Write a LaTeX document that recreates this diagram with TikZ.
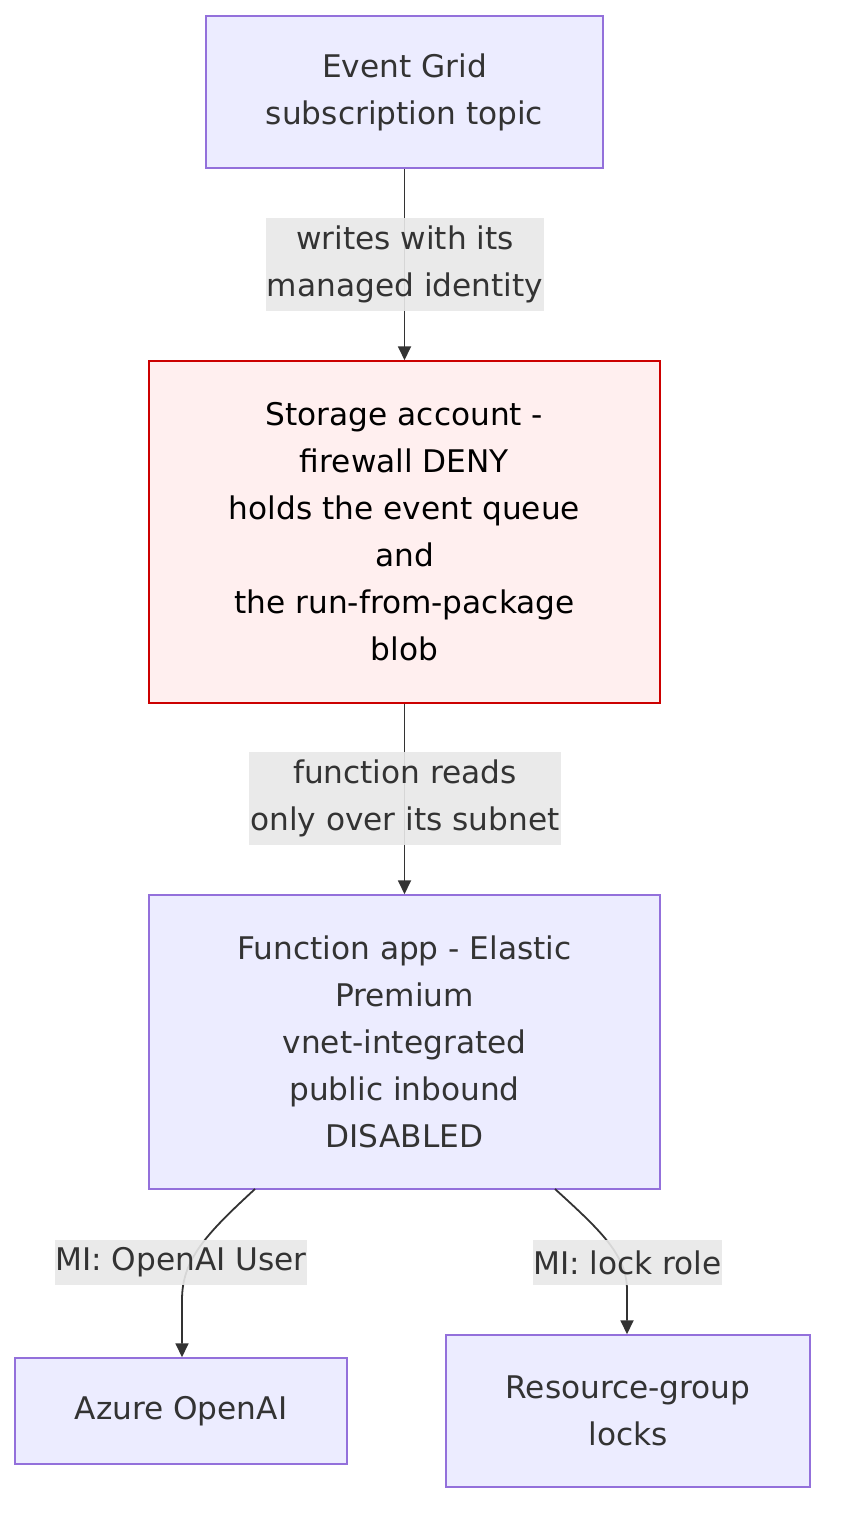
\documentclass[tikz,border=0pt]{standalone}
\usepackage{fontspec}
\setmainfont{DejaVu Sans}
\usetikzlibrary{arrows.meta}
\definecolor{nodefill}{HTML}{ECECFF}
\definecolor{nodeline}{HTML}{9370DB}
\definecolor{redfill}{HTML}{FFEFEF}
\definecolor{redline}{HTML}{CC0000}
\definecolor{txt}{HTML}{333333}
\definecolor{lblbg}{HTML}{E8E8E8}
\tikzset{
  box/.style={draw=nodeline, fill=nodefill, line width=1.5pt, inner sep=0pt, align=center, text=txt,
    font=\fontsize{31.2}{47}\selectfont},
  redbox/.style={box, draw=redline, fill=redfill, text=black},
  lbl/.style={fill=lblbg, fill opacity=0.9, text opacity=1, inner sep=0pt, align=center, text=txt,
    font=\fontsize{31.2}{47}\selectfont},
  edge/.style={draw=txt, line width=1.8pt, -{Triangle[length=14pt,width=13pt]}},
}
\begin{document}
\begin{tikzpicture}[x=1pt,y=-1pt]
\useasboundingbox (0,0) rectangle (842,1532);
\node[box, minimum width=397pt, minimum height=152pt] (eg) at (404.5,92) {Event Grid\\subscription topic};
\node[redbox, minimum width=511pt, minimum height=342pt] (st) at (404.5,532) {Storage account -\\firewall DENY\\holds the event queue\\and\\the run-from-package\\blob};
\node[box, minimum width=511pt, minimum height=294pt] (fa) at (404.5,1042) {Function app - Elastic\\Premium\\vnet-integrated\\public inbound\\DISABLED};
\node[box, minimum width=332pt, minimum height=106pt] (ao) at (181,1411) {Azure OpenAI};
\node[box, minimum width=364pt, minimum height=152pt] (rg) at (628,1411) {Resource-group\\locks};

\coordinate (faL) at (255,1189);
\coordinate (faR) at (555,1189);
\draw[edge] (eg.south) -- (st.north);
\draw[edge] (st.south) -- (fa.north);
\draw[edge] (faL) .. controls (205,1235) and (182,1260) .. (182,1300) -- (ao.north -| 182,0);
\draw[edge] (faR) .. controls (600,1230) and (627,1255) .. (627,1290) -- (rg.north -| 627,0);

\node[lbl, minimum width=278pt, minimum height=93pt] (l1) at (405,264.5) {writes with its\\managed identity};
\node[lbl, minimum width=312pt, minimum height=93pt] (l2) at (405,798.5) {function reads\\only over its subnet};
\node[lbl, minimum width=252pt, minimum height=45pt] (l3) at (181,1262.5) {MI: OpenAI User};
\node[lbl, minimum width=189pt, minimum height=45pt] (l4) at (627.5,1262.5) {MI: lock role};
\end{tikzpicture}
\end{document}
